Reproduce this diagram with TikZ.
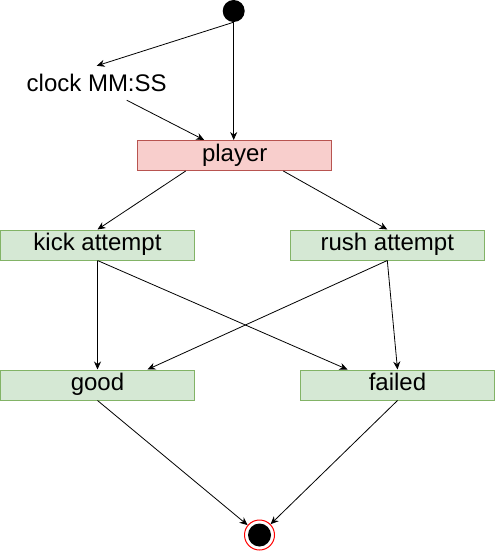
\documentclass[tikz,border=0pt]{standalone}
\usepackage{fontspec}
\setmainfont{Liberation Sans}
\usetikzlibrary{arrows.meta}

\definecolor{PlayerFill}{HTML}{F8CECC}
\definecolor{PlayerLine}{HTML}{B85450}
\definecolor{OutcomeFill}{HTML}{D5E8D4}
\definecolor{OutcomeLine}{HTML}{82B366}

\begin{document}
\begin{tikzpicture}[x = 1pt, y = -1pt,
    label text/.style = {font = \fontsize{24}{28}\selectfont, inner sep = 0pt, text height = 17pt},
    box/.style = {label text, draw, line width = 1pt, minimum width = 194pt, minimum height = 30pt, text depth = 5.5pt},
    outcome/.style = {box, draw = OutcomeLine, fill = OutcomeFill},
    flow/.style = {line width = 0.8pt, -{Stealth[length = 8pt, width = 7pt]}}]
    \useasboundingbox (0, 0) rectangle (495, 551);

    \node [circle, fill, minimum size = 22pt, inner sep = 0pt] (start) at (233.7, 11) {};
    \node [label text, text depth = 0pt, minimum height = 34pt] (clock) at (96.7, 83) {clock MM:SS};
    \node [box, draw = PlayerLine, fill = PlayerFill] (player) at (234.7, 155.5) {player};
    \foreach \n/\x/\y/\t in {kick/97.5/245/{kick attempt}, rush/387.3/245/{rush attempt},
                            good/97.5/385/good, failed/397.5/385/failed} {
        \node [outcome] (\n) at (\x, \y) {\t};
    }
    \node [circle, draw = red, line width = 1pt, minimum size = 30pt, inner sep = 0pt] (end) at (259.5, 535) {};
    \fill (end.center) circle (11.5pt);

    \draw [flow] (start.south) -- (clock.north);
    \draw [flow] (start.south) -- (start.south |- player.north);
    \draw [flow] ([xshift = 30pt]clock.south) -- ([xshift = -30.5pt]player.north);
    \draw [flow] ([xshift = -49pt]player.south) -- (kick.north);
    \draw [flow] ([xshift = 48.6pt]player.south) -- (rush.north);
    \draw [flow] (kick.south) -- (good.north);
    \draw [flow] (kick.south) -- ([xshift = -50pt]failed.north);
    \draw [flow] (rush.south) -- ([xshift = 50pt]good.north);
    \draw [flow] (rush.south) -- (failed.north);
    \draw [flow] (good.south) -- (end);
    \draw [flow] (failed.south) -- (end);
\end{tikzpicture}
\end{document}
